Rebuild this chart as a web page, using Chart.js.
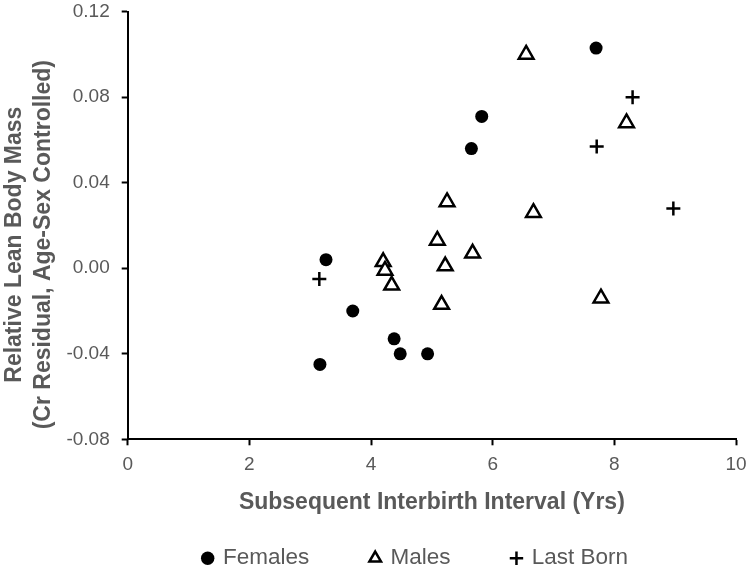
<!DOCTYPE html>
<html>
<head>
<meta charset="utf-8">
<script src="https://cdn.jsdelivr.net/npm/chart.js@4/dist/chart.umd.min.js"></script>
<style>
  html, body { margin: 0; padding: 0; background: #fff; }
  #wrap { width: 749px; height: 567px; }
</style>
</head>
<body>
<div id="wrap"><canvas id="scatter"></canvas></div>
<script>
// values
var femalesX = [3.16, 3.26, 3.70, 4.38, 4.48, 4.93, 5.65, 5.82, 7.70];
var femalesY = [-0.045, 0.004, -0.020, -0.033, -0.040, -0.040, 0.056, 0.071, 0.103];
var malesX = [4.20, 4.23, 4.34, 5.09, 5.16, 5.22, 5.25, 5.67, 6.55, 6.67, 7.78, 8.20];
var malesY = [0.003, -0.001, -0.008, 0.013, -0.017, 0.001, 0.031, 0.007, 0.100, 0.026, -0.014, 0.068];
var lastBornX = [3.15, 7.71, 8.30, 8.97];
var lastBornY = [-0.005, 0.057, 0.080, 0.028];
var xTicks = [0, 2, 4, 6, 8, 10];
var yTicks = [-0.08, -0.04, 0.00, 0.04, 0.08, 0.12];

function pts(xs, ys){
    var out = [];
    for(var i = 0; i < xs.length; i++) out.push({x: xs[i], y: ys[i]});
    return out;
}

var grey = '#595959',
    font = 'Arial, "Liberation Sans", sans-serif';

var axisGrid = {
    display: true,
    drawOnChartArea: false,
    drawTicks: true,
    tickLength: 6,
    tickWidth: 2,
    tickColor: '#000'
};

// legend padding is used both between items and above them, so move the box into place
var legendNudge = {
    id: 'legendNudge',
    afterLayout: function(chart){
        var lg = chart.legend;
        if(!lg) return;
        lg.left -= 16; lg.right -= 16;
        lg.top -= 32; lg.bottom = lg.top + 100;
    }
};

var chart = new Chart(document.getElementById('scatter').getContext('2d'), {
    type: 'scatter',
    data: {
        datasets: [{
            label: 'Females',
            data: pts(femalesX, femalesY),
            pointStyle: 'circle',
            pointRadius: 6.5,
            pointHoverRadius: 6.5,
            backgroundColor: '#000',
            borderColor: '#000',
            borderWidth: 0
        }, {
            label: 'Males',
            data: pts(malesX, malesY),
            pointStyle: 'triangle',
            pointRadius: 8.5,
            pointHoverRadius: 8.5,
            backgroundColor: '#fff',
            borderColor: '#000',
            borderWidth: 2.5
        }, {
            label: 'Last Born',
            data: pts(lastBornX, lastBornY),
            pointStyle: 'cross',
            pointRadius: 7,
            pointHoverRadius: 7,
            backgroundColor: '#000',
            borderColor: '#000',
            borderWidth: 2.5
        }]
    },
    plugins: [legendNudge],
    options: {
        responsive: true,
        maintainAspectRatio: false,
        animation: false,
        layout: { padding: { left: 0, right: 13, top: 11.7, bottom: 0 } },
        plugins: {
            tooltip: { enabled: false },
            legend: {
                position: 'bottom',
                fullSize: false,
                maxHeight: 50,
                labels: {
                    usePointStyle: true,
                    boxWidth: 8,
                    boxHeight: 9.5,
                    padding: 62,
                    color: grey,
                    font: { family: font, size: 22.5 }
                }
            }
        },
        scales: {
            x: {
                type: 'linear',
                min: 0, max: 10,
                afterBuildTicks: function(scale){
                    scale.ticks = xTicks.map(function(v){ return {value: v}; });
                },
                afterFit: function(scale){
                    scale.height = 77.7;
                    scale.paddingLeft = 0;
                    scale.paddingRight = 0;
                },
                grid: axisGrid,
                border: { display: true, color: '#000', width: 2 },
                ticks: {
                    color: grey,
                    padding: 8,
                    font: { family: font, size: 19 }
                },
                title: {
                    display: true,
                    text: 'Subsequent Interbirth Interval (Yrs)',
                    color: grey,
                    font: { family: font, size: 23, weight: 'bold' },
                    padding: { top: 12, bottom: 1 }
                }
            },
            y: {
                type: 'linear',
                min: -0.08, max: 0.12,
                afterBuildTicks: function(scale){
                    scale.ticks = yTicks.map(function(v){ return {value: v}; });
                },
                afterFit: function(scale){
                    scale.width = 127.7;
                    scale.paddingTop = 0;
                },
                grid: axisGrid,
                border: { display: true, color: '#000', width: 2 },
                ticks: {
                    color: grey,
                    padding: 12,
                    font: { family: font, size: 19 },
                    callback: function(v){ return v.toFixed(2); }
                },
                title: {
                    display: true,
                    // trailing spaces push the centred title a little lower, as in the source
                    text: ['Relative Lean Body Mass      ', '(Cr Residual, Age-Sex Controlled)      '],
                    color: grey,
                    font: { family: font, size: 23, weight: 'bold', lineHeight: 1.26 },
                    padding: { top: 0, bottom: 0 }
                }
            }
        }
    }
});
</script>
</body>
</html>
